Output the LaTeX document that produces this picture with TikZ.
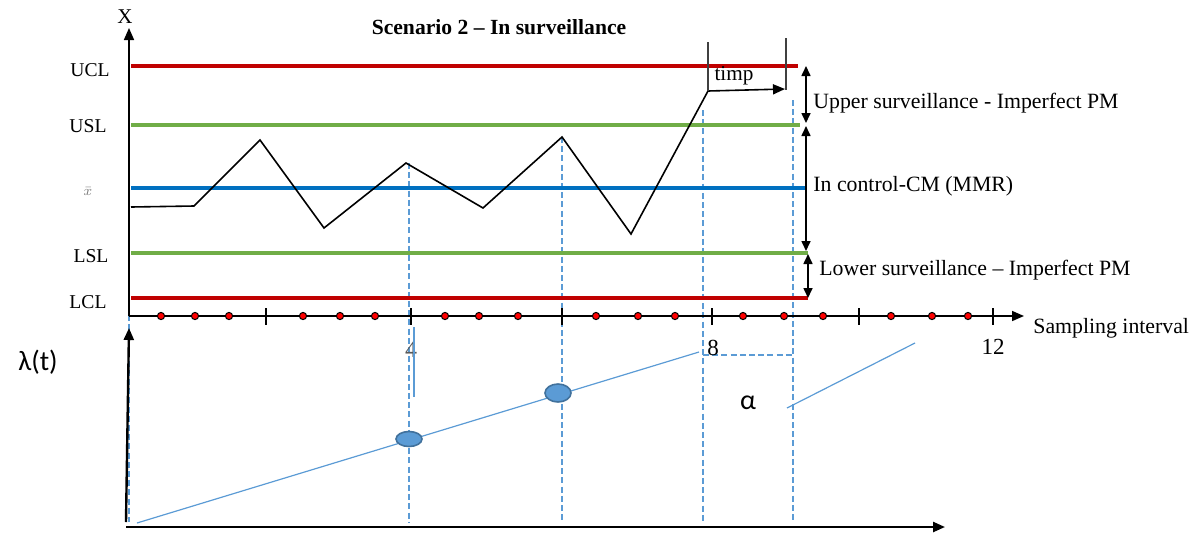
\documentclass[tikz,border=0pt]{standalone}
\usepackage{fontspec}
\setmainfont{Liberation Serif}
\newfontfamily\calib{Carlito}
\usetikzlibrary{arrows.meta,shapes.geometric}
\definecolor{cred}{HTML}{C00000}
\definecolor{cgreen}{HTML}{70AD47}
\definecolor{cblue}{HTML}{0070C0}
\definecolor{lblue}{HTML}{5B9BD5}
\definecolor{dblue}{HTML}{41719C}
\begin{document}
\begin{tikzpicture}[x=0.5pt,y=-0.5pt,
  limitline/.style={line width=2pt},
  zig/.style={line width=0.8pt},
  vdash/.style={lblue, dash pattern=on 3pt off 1.6pt, line width=0.7pt},
  lab/.style={font=\fontsize{9.8}{11}\selectfont, inner sep=0},
  txt/.style={font=\fontsize{10.9}{13}\selectfont, anchor=west, inner sep=0},
  rdot/.style={circle, fill=red, draw=black, line width=0.5pt, inner sep=0, minimum size=3.6pt},
  tick/.style={line width=0.6pt},
  arr/.style={-{Triangle[length=6pt,width=5pt]}},
  dbl/.style={{Triangle[length=5pt,width=4.5pt]}-{Triangle[length=5pt,width=4.5pt]}, line width=0.8pt},
  blob/.style={ellipse, fill=lblue, draw=dblue, line width=0.8pt, inner sep=0}
]
\useasboundingbox (0,0) rectangle (1195,537);

% coordinates
\coordinate (yo) at (129,316);
\coordinate (ytop) at (129,28);
\coordinate (xend) at (1024,316);

% dashed guides
\draw[vdash] (129,103) -- (129,522);
\draw[vdash] (409,163) -- (409,522);
\draw[vdash] (562,137) -- (562,522);
\draw[vdash] (703,110) -- (703,522);
\draw[vdash] (793,100) -- (793,522);
\draw[vdash] (703,355) -- (793,355);

% top axes
\draw[line width=0.8pt, arr] (yo) -- (ytop);
\draw[line width=0.8pt, arr] (yo) -- (xend);
\node[font=\fontsize{10.5}{12}\selectfont, inner sep=0] (xl) at (125,17) {X};

% control lines
\draw[limitline, cred] (131,66) -- (798,66);
\draw[limitline, cgreen] (131,125) -- (800,125);
\draw[limitline, cblue] (131,188) -- (805,188);
\draw[limitline, cgreen] (131,253) -- (808,253);
\draw[limitline, cred] (131,298) -- (808,298);

\node[lab] (ucl) at (90,70) {UCL};
\node[lab] (usl) at (88,126) {USL};
\node[lab, font=\scriptsize, text=gray] (xbar) at (88,191) {$\bar{x}$};
\node[lab] (lsl) at (91,256) {LSL};
\node[lab] (lcl) at (88,302) {LCL};

\node[font=\bfseries\fontsize{10.8}{13}\selectfont, inner sep=0] (title) at (499,27) {Scenario 2 -- In surveillance};

% ticks
\foreach \t in {266,411,562,712,859,993}
  \draw[tick] (\t,308) -- (\t,325);
% red dots
\foreach \d in {161,195,229,303,340,375,445,479,518,596,638,675,743,784,823,891,932,968}
  \node[rdot] at (\d,316) {};

\node[font=\fontsize{12}{13}\selectfont, inner sep=0, text=gray!70!black] (n4) at (411,350) {4};
\node[font=\fontsize{11.5}{13}\selectfont, inner sep=0] (n8) at (713,348) {8};
\node[font=\fontsize{11.5}{13}\selectfont, inner sep=0] (n12) at (993,347) {12};
\node[txt] (samp) at (1033,328) {Sampling interval};

% zigzag
\draw[zig, arr] (131,207) -- (194,206) -- (260,140) -- (324,228) -- (406,163) -- (483,208) -- (562,137) -- (631,234) -- (708,91) -- (785,89);

% timp bracket
\draw[line width=0.6pt, black!75] (708,42) -- (708,91);
\draw[line width=0.6pt, black!75] (786,38) -- (786,90);
\node[font=\fontsize{10.6}{13}\selectfont, inner sep=0] (timp) at (734,76) {timp};

% right double arrows
\draw[dbl] (806,66) -- (806,123);
\draw[dbl] (806,126) -- (806,251);
\draw[dbl] (808,254) -- (808,298);
\node[txt] (up) at (813,103) {Upper surveillance - Imperfect PM};
\node[txt] (inc) at (813,186) {In control-CM (MMR)};
\node[txt] (lo) at (819,270) {Lower surveillance -- Imperfect PM};

% lower chart
\draw[line width=1.2pt, arr] (126,522) -- (129,328);
\draw[line width=1.2pt, arr] (126,527) -- (945,527);
\node[font=\calib\fontsize{14}{16}\selectfont, inner sep=0] (lam) at (38,362) {λ(t)};
\node[font=\calib\fontsize{14}{16}\selectfont, inner sep=0] (alpha) at (748,403) {α};

\draw[lblue, line width=1.2pt] (414,327) -- (414,397);
\draw[lblue, line width=0.6pt] (137,523) -- (699,352);
\draw[lblue, line width=0.6pt] (787,408) -- (915,343);
\node[blob, minimum width=13pt, minimum height=7.5pt] (e1) at (409,439) {};
\node[blob, minimum width=13pt, minimum height=9pt] (e2) at (558,393) {};
\end{tikzpicture}
\end{document}
